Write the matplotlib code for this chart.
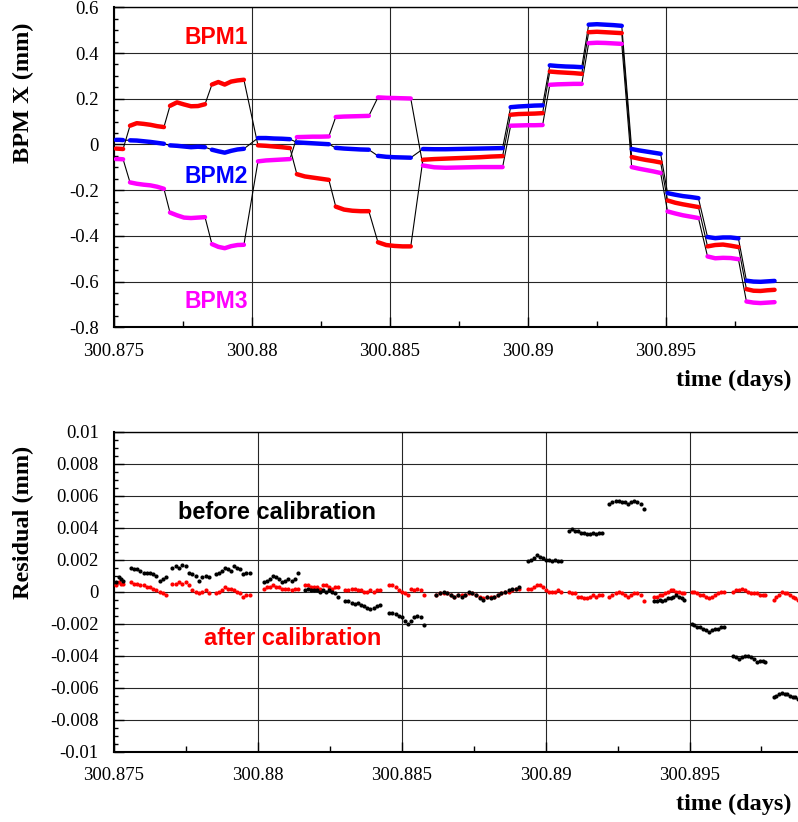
import matplotlib
matplotlib.use('Agg')
import matplotlib.pyplot as plt
from matplotlib.ticker import AutoMinorLocator, FixedLocator, FuncFormatter
import numpy as np

# time of each plateau, in 1e-3 days after 300.875
t_day0 = 300.875
seg_start = [0.07, 0.58, 2.03, 3.55, 5.22, 6.63, 8.04, 9.57,
             11.20, 14.38, 15.80, 17.21, 18.77, 20.07, 21.52, 22.93]
seg_end = [0.33, 1.81, 3.30, 4.71, 6.38, 7.79, 9.24, 10.76,
           14.09, 15.54, 16.96, 18.41, 19.82, 21.19, 22.64, 23.95]

# BPM X readings (mm), read along each plateau
bpm1 = [[-0.018, -0.019, -0.020],
        [0.082, 0.093, 0.090, 0.086, 0.080, 0.076],
        [0.169, 0.184, 0.175, 0.167, 0.168, 0.176],
        [0.262, 0.273, 0.262, 0.275, 0.280, 0.283],
        [-0.004, -0.006, -0.009, -0.012, -0.016],
        [-0.130, -0.140, -0.145, -0.150, -0.155],
        [-0.272, -0.285, -0.290, -0.292, -0.292],
        [-0.428, -0.440, -0.444, -0.446, -0.446],
        [-0.067, -0.064, -0.062, -0.060, -0.058, -0.056, -0.053, -0.051],
        [0.130, 0.133, 0.134, 0.135, 0.137],
        [0.319, 0.316, 0.314, 0.312, 0.309],
        [0.491, 0.493, 0.491, 0.489, 0.487],
        [-0.055, -0.062, -0.068, -0.073, -0.079],
        [-0.245, -0.255, -0.262, -0.268, -0.274],
        [-0.446, -0.440, -0.438, -0.443, -0.449],
        [-0.633, -0.640, -0.641, -0.638, -0.636]]
bpm2 = [[0.020, 0.020, 0.019],
        [0.018, 0.017, 0.014, 0.011, 0.007, 0.003],
        [-0.004, -0.006, -0.009, -0.012, -0.010, -0.012],
        [-0.023, -0.030, -0.036, -0.028, -0.022, -0.019],
        [0.028, 0.028, 0.026, 0.025, 0.023],
        [0.009, 0.007, 0.005, 0.003, 0.001],
        [-0.015, -0.018, -0.020, -0.022, -0.023],
        [-0.050, -0.054, -0.056, -0.057, -0.058],
        [-0.020, -0.021, -0.021, -0.020, -0.019, -0.018, -0.017, -0.016],
        [0.163, 0.166, 0.168, 0.170, 0.171],
        [0.346, 0.343, 0.341, 0.340, 0.338],
        [0.524, 0.526, 0.524, 0.522, 0.519],
        [-0.020, -0.026, -0.031, -0.036, -0.041],
        [-0.213, -0.220, -0.226, -0.230, -0.235],
        [-0.405, -0.410, -0.407, -0.407, -0.411],
        [-0.596, -0.600, -0.601, -0.599, -0.597]]
bpm3 = [[-0.064, -0.064, -0.065],
        [-0.166, -0.172, -0.176, -0.179, -0.185, -0.194],
        [-0.298, -0.310, -0.320, -0.322, -0.320, -0.318],
        [-0.436, -0.448, -0.454, -0.445, -0.440, -0.439],
        [-0.074, -0.070, -0.068, -0.066, -0.064],
        [0.032, 0.033, 0.034, 0.034, 0.035],
        [0.120, 0.122, 0.123, 0.124, 0.125],
        [0.206, 0.204, 0.203, 0.202, 0.201],
        [-0.092, -0.100, -0.102, -0.101, -0.100, -0.099, -0.099, -0.099],
        [0.082, 0.083, 0.084, 0.084, 0.085],
        [0.261, 0.263, 0.264, 0.265, 0.265],
        [0.443, 0.445, 0.444, 0.442, 0.440],
        [-0.099, -0.106, -0.112, -0.118, -0.125],
        [-0.293, -0.302, -0.310, -0.316, -0.322],
        [-0.490, -0.498, -0.496, -0.497, -0.502],
        [-0.687, -0.692, -0.694, -0.692, -0.690]]

# fit residuals in micrometres
before_cal = [[0.6, 0.9, 0.8, 0.7],
              [1.5, 1.4, 1.4, 1.3, 1.2, 1.2, 1.2, 1.1, 1.0, 0.7, 0.8, 0.9],
              [1.5, 1.6, 1.5, 1.7, 1.6, 1.2, 1.1, 1.0, 0.7, 0.9, 1.0, 0.9],
              [1.1, 1.2, 1.3, 1.5, 1.4, 1.3, 1.6, 1.5, 1.4, 1.1, 1.2, 1.2],
              [0.6, 0.7, 0.8, 1.0, 0.9, 0.8, 0.6, 0.7, 0.8, 0.7, 0.8, 1.2],
              [0.1, 0.2, 0.1, 0.1, 0.1, 0.0, 0.1, 0.0, 0.1, 0.0, -0.1, -0.3],
              [-0.6, -0.6, -0.7, -0.75, -0.7, -0.8, -0.9, -1.0, -1.1, -1.0, -0.9, -0.8],
              [-1.3, -1.3, -1.4, -1.5, -1.6, -1.8, -2.0, -1.8, -1.6, -1.5, -1.6, -2.1],
              [-0.2, -0.1, 0.0, -0.1, -0.2, -0.3, -0.2, -0.3, -0.2, 0.0, -0.1, -0.2,
               -0.4, -0.5, -0.3, -0.4, -0.3, -0.2, -0.1, 0.0, 0.1, 0.2, 0.2, 0.3],
              [1.9, 2.0, 2.1, 2.3, 2.2, 2.1, 2.0, 2.0, 1.9, 2.0, 1.9, 1.9],
              [3.8, 3.9, 3.8, 3.8, 3.7, 3.7, 3.6, 3.6, 3.7, 3.6, 3.7, 3.7],
              [5.5, 5.6, 5.7, 5.7, 5.6, 5.6, 5.5, 5.6, 5.7, 5.6, 5.5, 5.2],
              [-0.6, -0.6, -0.5, -0.6, -0.5, -0.4, -0.4, -0.3, -0.2, -0.3, -0.4, -0.5],
              [-2.0, -2.1, -2.2, -2.2, -2.3, -2.4, -2.5, -2.4, -2.3, -2.3, -2.2, -2.2],
              [-4.0, -4.1, -4.2, -4.1, -4.0, -4.0, -4.1, -4.2, -4.4, -4.3, -4.3, -4.4],
              [-6.6, -6.5, -6.4, -6.3, -6.4, -6.4, -6.5, -6.6, -6.6, -6.7, -6.7, -6.6]]
after_cal = [[0.4, 0.6, 0.5, 0.5],
             [0.6, 0.5, 0.5, 0.4, 0.4, 0.3, 0.3, 0.2, 0.1, 0.0, -0.1, -0.2],
             [0.5, 0.5, 0.6, 0.5, 0.6, 0.4, 0.1, 0.0, -0.1, 0.0, 0.1, -0.1],
             [-0.1, 0.0, 0.1, 0.3, 0.2, 0.2, 0.1, 0.0, -0.1, -0.3, -0.2, -0.2],
             [0.2, 0.3, 0.3, 0.4, 0.3, 0.3, 0.2, 0.2, 0.2, 0.1, 0.2, 0.2],
             [0.4, 0.4, 0.3, 0.3, 0.3, 0.2, 0.4, 0.4, 0.3, 0.2, 0.3, 0.3],
             [0.1, 0.1, 0.2, 0.2, 0.1, 0.1, 0.0, 0.0, 0.1, 0.0, 0.1, 0.1],
             [0.4, 0.4, 0.3, 0.1, 0.0, -0.1, -0.2, 0.2, 0.1, 0.2, 0.1, -0.2],
             [-0.2, -0.1, -0.1, -0.1, -0.2, -0.3, -0.2, -0.2, -0.2, -0.1, -0.1, -0.2,
              -0.3, -0.4, -0.3, -0.3, -0.3, -0.2, -0.1, 0.0, 0.0, 0.1, 0.2, 0.2],
             [0.2, 0.2, 0.3, 0.4, 0.4, 0.3, 0.1, 0.0, 0.0, 0.0, 0.1, 0.0],
             [0.0, -0.1, -0.1, -0.3, -0.3, -0.4, -0.4, -0.3, -0.2, -0.3, -0.2, -0.2],
             [-0.3, -0.2, -0.1, 0.0, -0.1, -0.2, -0.3, -0.2, -0.1, -0.1, -0.2, -0.6],
             [-0.3, -0.3, -0.2, -0.2, -0.1, 0.0, 0.1, 0.1, 0.0, 0.0, -0.1, -0.1],
             [0.0, 0.0, -0.1, -0.2, -0.2, -0.3, -0.4, -0.3, -0.2, -0.1, 0.0, 0.0],
             [0.0, 0.1, 0.1, 0.2, 0.1, 0.0, -0.1, -0.1, -0.1, -0.2, -0.2, -0.2],
             [-0.5, -0.3, -0.2, 0.0, -0.1, -0.1, -0.2, -0.3, -0.4, -0.5, -0.5, -0.5]]

x_ticks = [300.875, 300.88, 300.885, 300.89, 300.895]
x_ticklabels = ['300.875', '300.88', '300.885', '300.89', '300.895']
top_yticks = [-0.8, -0.6, -0.4, -0.2, 0, 0.2, 0.4, 0.6]
bot_yticks = [-0.01, -0.008, -0.006, -0.004, -0.002, 0,
              0.002, 0.004, 0.006, 0.008, 0.01]

serif = 'Liberation Serif'
sans = 'Liberation Sans'
W, H = 798, 822


def plateau_times(vals_list):
    # sample times of the readings along every plateau, in days
    return [t_day0 + 1e-3 * np.linspace(a, b, len(v))
            for a, b, v in zip(seg_start, seg_end, vals_list)]


def style_axes(ax, yticks, xmax):
    ax.set_xlim(t_day0, xmax)
    ax.set_ylim(yticks[0], yticks[-1])
    ax.xaxis.set_major_locator(FixedLocator(x_ticks))
    ax.set_xticklabels(x_ticklabels)
    ax.xaxis.set_minor_locator(AutoMinorLocator(2))
    ax.yaxis.set_major_locator(FixedLocator(yticks))
    ax.yaxis.set_minor_locator(AutoMinorLocator(4))
    ax.yaxis.set_major_formatter(FuncFormatter(lambda v, p: '%g' % round(v, 6)))
    ax.tick_params(which='both', direction='in', top=False, right=False,
                   labelsize=13.5, pad=11, width=1.0)
    ax.tick_params(axis='x', which='major', length=7)
    ax.tick_params(axis='x', which='minor', length=4.5)
    ax.tick_params(axis='y', which='major', length=7)
    ax.tick_params(axis='y', which='minor', length=3)
    for lab in ax.get_xticklabels() + ax.get_yticklabels():
        lab.set_fontfamily(serif)
    ax.grid(True, which='major', color='0.15', lw=0.8)
    ax.set_axisbelow(True)
    ax.spines['right'].set_visible(False)
    ax.spines['left'].set_linewidth(1.5)
    ax.spines['bottom'].set_linewidth(1.5)
    ax.spines['top'].set_linewidth(1.0)


fig = plt.figure(figsize=(W / 100, H / 100), dpi=100)

# ---- top: BPM positions
ax1 = plt.axes([114 / W, 1 - 327.3 / H, 1 - 114 / W, 320 / H])
for vals, col in [(bpm3, 'magenta'), (bpm1, 'red'), (bpm2, 'blue')]:
    times = plateau_times(vals)
    ax1.plot(np.concatenate(times), np.concatenate(vals), color='black', lw=0.8, zorder=3)
    for t, v in zip(times, vals):
        ax1.plot(t, v, color=col, lw=3.2, solid_capstyle='round', zorder=4)
style_axes(ax1, top_yticks, 300.8998)

ax1.text(216 / W, 1 - 37.5 / H, 'BPM1', transform=fig.transFigure, color='red',
         fontsize=16.5, fontweight='bold', family=sans, ha='center', va='center')
ax1.text(216 / W, 1 - 176.5 / H, 'BPM2', transform=fig.transFigure, color='blue',
         fontsize=16.5, fontweight='bold', family=sans, ha='center', va='center')
ax1.text(216 / W, 1 - 301.5 / H, 'BPM3', transform=fig.transFigure, color='magenta',
         fontsize=16.5, fontweight='bold', family=sans, ha='center', va='center')

fig.text(23 / W, 1 - 92.5 / H, 'BPM X (mm)', rotation=90, fontsize=17.5,
         fontweight='bold', family=serif, ha='center', va='center')
fig.text(792 / W, 1 - 380 / H, 'time (days)', fontsize=17.5,
         fontweight='bold', family=serif, ha='right', va='center')

# ---- bottom: residuals before / after calibration
ax2 = plt.axes([114 / W, 1 - 751.7 / H, 1 - 114 / W, 320 / H])
times = plateau_times(after_cal)
ax2.plot(np.concatenate(times), np.concatenate(after_cal) * 1e-3, 'o',
         color='red', ms=3.0, mew=0, zorder=3)
times = plateau_times(before_cal)
ax2.plot(np.concatenate(times), np.concatenate(before_cal) * 1e-3, 'o',
         color='black', ms=3.0, mew=0, zorder=4)
style_axes(ax2, bot_yticks, 300.89877)

fig.text(277 / W, 1 - 512.5 / H, 'before calibration', color='black',
         fontsize=17, fontweight='bold', family=sans, ha='center', va='center')
fig.text(293 / W, 1 - 638 / H, 'after calibration', color='red',
         fontsize=17, fontweight='bold', family=sans, ha='center', va='center')

fig.text(23 / W, 1 - 522 / H, 'Residual (mm)', rotation=90, fontsize=17.5,
         fontweight='bold', family=serif, ha='center', va='center')
fig.text(792 / W, 1 - 804 / H, 'time (days)', fontsize=17.5,
         fontweight='bold', family=serif, ha='right', va='center')

fig.savefig('out.png', dpi=100)
